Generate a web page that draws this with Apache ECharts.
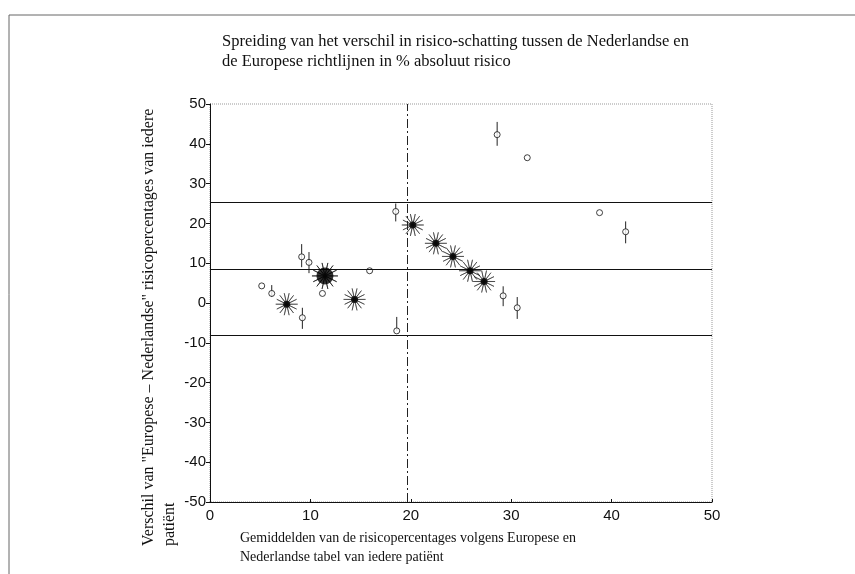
<!DOCTYPE html>
<html>
<head>
<meta charset="utf-8">
<script src="https://cdn.jsdelivr.net/npm/echarts@6/dist/echarts.min.js"></script>
<style>html,body{margin:0;padding:0;background:#fff}#c{width:855px;height:574px}</style>
</head>
<body>
<div id="c"></div>
<script>
// ---- data ----
const xTicks = [0, 10, 20, 30, 40, 50];
const yTicks = [-50, -40, -30, -20, -10, 0, 10, 20, 30, 40, 50];
// open circles: [mean, difference]
const openPoints = [
  [5.15, 4.3], [6.15, 2.4], [9.13, 11.6], [9.86, 10.2], [9.2, -3.7],
  [11.2, 2.4], [15.9, 8.1], [18.5, 23.0], [18.6, -7.0], [29.2, 1.8],
  [30.6, -1.2], [28.6, 42.3], [31.6, 36.5], [38.8, 22.7], [41.4, 17.9]
];
// error bars: [mean, low, high]
const errorBars = [
  [6.15, 1.5, 4.5], [9.13, 9.0, 14.8], [9.86, 7.5, 12.8], [9.2, -6.5, -1.2],
  [18.5, 20.5, 25.0], [18.6, -7.0, -3.5], [29.2, -0.8, 4.2], [30.6, -4.0, 1.5],
  [28.6, 39.5, 45.5], [41.4, 15.0, 20.5]
];
// starburst points (multiple patients): [mean, difference]
const starPoints = [
  [7.64, -0.3], [14.4, 0.9], [20.2, 19.6], [22.5, 15.0], [24.2, 11.7],
  [25.9, 8.1], [27.3, 5.4]
];
// large cluster
const bigPoint = [[11.45, 6.8]];
// reference lines
const meanLine = 8.6;
const upperLimit = 25.3;
const lowerLimit = -8.0;
const verticalRef = 19.6;

const titleLines = ['Spreiding van het verschil in risico-schatting tussen de Nederlandse en', 'de Europese richtlijnen in % absoluut risico'];
const xNameLines = ['Gemiddelden van de risicopercentages volgens Europese en', 'Nederlandse tabel van iedere patiënt'];
const yNameLines = ['Verschil van "Europese \u2013 Nederlandse" risicopercentages van iedere', 'patiënt'];

// starburst symbol shape
function burstPath(n, rIn) {
  let d = '';
  for (let i = 0; i < 2 * n; i++) {
    const a = Math.PI * i / n;
    const r = i % 2 === 0 ? 50 : 50 * rIn;
    const x = (50 + r * Math.cos(a)).toFixed(2), y = (50 + r * Math.sin(a)).toFixed(2);
    d += (i === 0 ? 'M' : 'L') + x + ' ' + y + ' ';
  }
  return 'path://' + d + 'Z';
}
const burst = burstPath(14, 0.06);

const serif = '"Liberation Serif", "DejaVu Serif", serif';
const sans = '"Liberation Sans", Arial, sans-serif';

const chart = echarts.init(document.getElementById('c'));
chart.setOption({
  animation: false,
  backgroundColor: '#fff',
  grid: { left: 210, right: 143, top: 104, bottom: 72, show: true, borderColor: '#999', borderWidth: 1, borderType: 'dotted' },
  xAxis: {
    type: 'value', min: 0, max: 50, interval: 10,
    axisLine: { onZero: false, lineStyle: { color: '#111', width: 1 } },
    axisTick: { show: true, inside: true, length: 3, lineStyle: { color: '#111' } },
    axisLabel: { color: '#111', fontFamily: sans, fontSize: 15, margin: 6,
      formatter: v => xTicks.includes(v) ? String(v) : '' },
    splitLine: { show: false }
  },
  yAxis: {
    type: 'value', min: -50, max: 50, interval: 10,
    axisLine: { onZero: false, lineStyle: { color: '#111', width: 1 } },
    axisTick: { show: true, length: 4, lineStyle: { color: '#111' } },
    axisLabel: { color: '#111', fontFamily: sans, fontSize: 15, margin: 4,
      formatter: v => yTicks.includes(v) ? String(v) : '' },
    splitLine: { show: false }
  },
  graphic: [
    { type: 'line', shape: { x1: 9, y1: 15, x2: 855, y2: 15 }, style: { stroke: '#666', lineWidth: 1 } },
    { type: 'line', shape: { x1: 9, y1: 15, x2: 9, y2: 574 }, style: { stroke: '#666', lineWidth: 1 } },
    { type: 'text', left: 222, top: 32, style: { text: titleLines.join('\n'), font: '16.5px ' + serif, fill: '#111', lineHeight: 20 } },
    { type: 'text', left: 240, top: 529, style: { text: xNameLines.join('\n'), font: '14px ' + serif, fill: '#111', lineHeight: 19 } },
    { type: 'text', x: 138, y: 546, rotation: Math.PI / 2, style: { text: yNameLines.join('\n'), font: '16px ' + serif, fill: '#111', lineHeight: 21, align: 'left', verticalAlign: 'top' } }
  ],
  series: [
    {
      type: 'line', data: [], silent: true,
      markLine: {
        symbol: 'none', silent: true, label: { show: false },
        data: [
          { yAxis: upperLimit, lineStyle: { color: '#111', width: 1, type: 'solid' } },
          { yAxis: meanLine, lineStyle: { color: '#111', width: 1, type: 'solid' } },
          { yAxis: lowerLimit, lineStyle: { color: '#111', width: 1, type: 'solid' } },
          { xAxis: verticalRef, lineStyle: { color: '#222', width: 1, type: [9, 3, 2, 3] } }
        ]
      }
    },
    {
      type: 'custom', silent: true,
      renderItem: (params, api) => {
        const p1 = api.coord([api.value(0), api.value(1)]);
        const p2 = api.coord([api.value(0), api.value(2)]);
        return { type: 'line', shape: { x1: p1[0], y1: p1[1], x2: p2[0], y2: p2[1] }, style: { stroke: '#222', lineWidth: 1 } };
      },
      data: errorBars, z: 3
    },
    {
      type: 'scatter', data: openPoints, symbol: 'circle', symbolSize: 6,
      itemStyle: { color: '#fff', borderColor: '#111', borderWidth: 1 }, z: 4
    },
    {
      type: 'scatter', data: starPoints, symbol: burst, symbolSize: 22,
      itemStyle: { color: '#111', borderColor: '#111', borderWidth: 0.6 }, z: 4
    },
    {
      type: 'scatter', data: starPoints, symbol: 'circle', symbolSize: 7,
      itemStyle: { color: '#000' }, z: 5
    },
    {
      type: 'scatter', data: bigPoint, symbol: burst, symbolSize: 26,
      itemStyle: { color: '#111', borderColor: '#111', borderWidth: 0.8 }, z: 4
    },
    {
      type: 'scatter', data: bigPoint, symbol: 'circle', symbolSize: 17,
      itemStyle: { color: '#000' }, z: 5
    }
  ]
});
</script>
</body>
</html>
